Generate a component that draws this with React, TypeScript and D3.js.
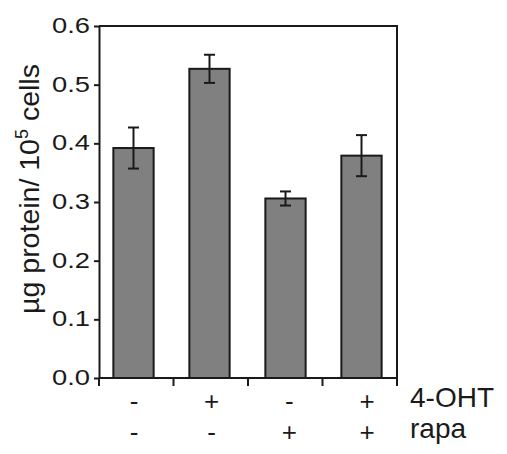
import React, { useEffect, useRef } from "react";
import * as d3 from "d3";

const groups = ["ctrl", "oht", "rapa", "oht+rapa"];
const ohtSigns = ["-", "+", "-", "+"];
const rapaSigns = ["-", "-", "+", "+"];
const means = [0.392, 0.527, 0.306, 0.379];
const errors = [0.035, 0.024, 0.012, 0.035];
const yTicks = [0, 0.1, 0.2, 0.3, 0.4, 0.5, 0.6];

export default function App() {
  const ref = useRef<SVGSVGElement | null>(null);

  useEffect(() => {
    const width = 507;
    const height = 454;
    const ink = "#1a1a1a";
    const font = "'Liberation Sans', Arial, sans-serif";
    const svg = d3.select(ref.current).attr("width", width).attr("height", height);
    svg.selectAll("*").remove();

    const data = groups.map((g, i) => ({ g, v: means[i], e: errors[i] }));

    const y = d3.scaleLinear().domain([0, 0.6]).range([378, 26]);
    const xAxis = d3.scaleBand().domain(groups).range([99, 397]);
    const x = d3
      .scaleBand()
      .domain(groups)
      .range([95.5, 399.5])
      .paddingInner(0.47)
      .paddingOuter(0.235);
    const xLab = d3.scalePoint().domain(groups).range([134, 367]);

    const left = xAxis.range()[0];
    const right = xAxis.range()[1];

    // bars
    svg
      .selectAll(".bar")
      .data(data)
      .join("rect")
      .attr("class", "bar")
      .attr("x", (d) => x(d.g)!)
      .attr("y", (d) => y(d.v))
      .attr("width", x.bandwidth())
      .attr("height", (d) => y(0) - y(d.v))
      .attr("fill", "#808080")
      .attr("stroke", ink)
      .attr("stroke-width", 2);

    // error bars
    const eb = svg.append("g").attr("stroke", ink).attr("stroke-width", 2);
    data.forEach((d) => {
      const cx = x(d.g)! + x.bandwidth() / 2;
      eb.append("line").attr("x1", cx).attr("x2", cx).attr("y1", y(d.v + d.e)).attr("y2", y(d.v - d.e));
      [d.v + d.e, d.v - d.e].forEach((v) => {
        eb.append("line").attr("x1", cx - 5.5).attr("x2", cx + 5.5).attr("y1", y(v)).attr("y2", y(v));
      });
    });

    // frame: top + right border
    svg
      .append("path")
      .attr("d", `M${left},${y(0.6)}H${right}V${y(0) + 8}`)
      .attr("fill", "none")
      .attr("stroke", ink)
      .attr("stroke-width", 2);

    // x axis with ticks between groups
    const bounds = [...groups.map((g) => xAxis(g)!), right];
    svg
      .append("line")
      .attr("x1", left)
      .attr("x2", right)
      .attr("y1", y(0))
      .attr("y2", y(0))
      .attr("stroke", ink)
      .attr("stroke-width", 2);
    svg
      .selectAll(".xtick")
      .data(bounds)
      .join("line")
      .attr("class", "xtick")
      .attr("x1", (d) => d)
      .attr("x2", (d) => d)
      .attr("y1", y(0))
      .attr("y2", y(0) + 8)
      .attr("stroke", ink)
      .attr("stroke-width", 2);

    // y axis
    const ga = svg
      .append("g")
      .attr("transform", `translate(${left},0)`)
      .call(
        d3
          .axisLeft(y)
          .tickValues(yTicks)
          .tickSize(5)
          .tickSizeOuter(0)
          .tickPadding(4)
          .tickFormat(d3.format(".1f"))
      );
    ga.select(".domain").attr("stroke", ink).attr("stroke-width", 2);
    ga.selectAll(".tick line").attr("stroke", ink).attr("stroke-width", 2);
    ga.selectAll(".tick text")
      .attr("fill", ink)
      .attr("font-family", font)
      .attr("font-size", 22)
      .attr("textLength", 38)
      .attr("lengthAdjust", "spacingAndGlyphs")
      .attr("dy", "0.3em");

    // y label
    const yl = svg
      .append("text")
      .attr("transform", `translate(39,${189}) rotate(-90)`)
      .attr("text-anchor", "middle")
      .attr("font-family", font)
      .attr("font-size", 28.5)
      .attr("fill", ink);
    yl.append("tspan").text("µg protein/ 10");
    yl.append("tspan").attr("font-size", 18).attr("dy", -11).text("5");
    yl.append("tspan").attr("dy", 11).text(" cells");

    // condition rows
    const rows = [
      { signs: ohtSigns, name: "4-OHT", base: 407 },
      { signs: rapaSigns, name: "rapa", base: 438 },
    ];
    rows.forEach((r) => {
      svg
        .append("g")
        .selectAll("text")
        .data(groups)
        .join("text")
        .attr("x", (g) => xLab(g)!)
        .attr("y", r.base + 3)
        .attr("text-anchor", "middle")
        .attr("font-family", font)
        .attr("font-size", 26)
        .attr("fill", ink)
        .text((g, i) => r.signs[i]);
      svg
        .append("text")
        .attr("x", 410)
        .attr("y", r.base)
        .attr("font-family", font)
        .attr("font-size", 28)
        .attr("fill", ink)
        .text(r.name);
    });
  }, []);

  return <svg ref={ref} style={{ position: "absolute", left: 0, top: 0, background: "#fff" }} />;
}
